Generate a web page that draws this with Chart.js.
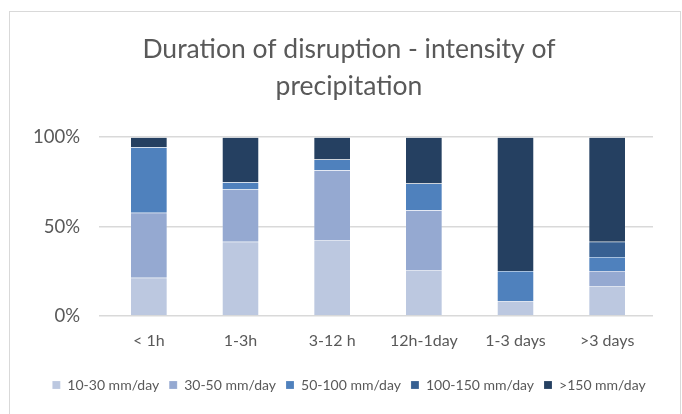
<!DOCTYPE html>
<html>
<head>
<meta charset="utf-8">
<script src="https://cdn.jsdelivr.net/npm/chart.js@4/dist/chart.umd.min.js"></script>
<style>
  html, body { margin: 0; padding: 0; background: #ffffff; }
  #wrap { width: 682px; height: 414px; position: relative; }
</style>
</head>
<body>
<div id="wrap"><canvas id="chart" width="682" height="414"></canvas></div>
<script>
// Duration categories on the x axis
const categories = ['< 1h', '1-3h', '3-12 h', '12h-1day', '1-3 days', '>3 days'];

// Share (%) of each precipitation intensity class per duration
const s10to30   = [21.4, 41.5, 42.5, 25.7,  8.4, 16.8];
const s30to50   = [36.3, 29.2, 39.0, 33.5,  0.0,  8.4];
const s50to100  = [36.7,  4.1,  6.0, 14.9, 16.8,  7.8];
const s100to150 = [ 0.0,  0.0,  0.0,  0.0,  0.0,  8.5];
const sOver150  = [ 5.6, 25.2, 12.5, 25.9, 74.8, 58.5];

const seriesNames = ['10-30 mm/day', '30-50 mm/day', '50-100 mm/day', '100-150 mm/day', '>150 mm/day'];
const yTicks = [0, 50, 100];

const colors = ['#bcc8e0', '#95a9d1', '#4f81bd', '#376092', '#254061'];
const textGray = '#595959';
const FONT = 'Lato, "Open Sans", sans-serif';

const seriesData = [s10to30, s30to50, s50to100, s100to150, sOver150];

// Light frame around the whole chart
const framePlugin = {
  id: 'frame',
  afterDraw(chart) {
    const ctx = chart.ctx;
    ctx.save();
    ctx.strokeStyle = '#d9d9d9';
    ctx.lineWidth = 1;
    ctx.strokeRect(9.5, 11.5, 671, 420);
    ctx.restore();
  }
};

new Chart(document.getElementById('chart'), {
  type: 'bar',
  data: {
    labels: categories,
    datasets: seriesData.map((d, i) => ({
      label: seriesNames[i],
      data: d,
      backgroundColor: colors[i],
      borderColor: 'rgba(255,255,255,0.35)',
      borderWidth: 0.5,
      categoryPercentage: 1.0,
      barPercentage: 0.4
    }))
  },
  options: {
    responsive: false,
    animation: false,
    devicePixelRatio: 1,
    layout: { padding: { left: 16, right: 0, top: 0, bottom: 12 } },
    plugins: {
      title: {
        display: true,
        text: ['Duration of disruption - intensity of', 'precipitation'],
        color: textGray,
        font: { family: FONT, size: 26.5, weight: 'normal', lineHeight: 1.4 },
        padding: { top: 31, bottom: 32 }
      },
      legend: {
        position: 'bottom',
        labels: {
          color: textGray,
          font: { family: FONT, size: 14 },
          boxWidth: 8,
          boxHeight: 8,
          padding: 10
        }
      },
      tooltip: { enabled: false }
    },
    scales: {
      x: {
        stacked: true,
        afterFit(scale) { scale.height = 52; },
        grid: { display: false, drawTicks: false },
        border: { display: false },
        ticks: { color: textGray, font: { family: FONT, size: 16 }, padding: 15 }
      },
      y: {
        stacked: true,
        min: 0,
        max: 100,
        afterBuildTicks(scale) { scale.ticks = yTicks.map(v => ({ value: v })); },
        afterFit(scale) { scale.width = 87; },
        grid: { color: '#d9d9d9', lineWidth: 1.5, tickLength: 4 },
        border: { display: false },
        ticks: {
          color: textGray,
          font: { family: FONT, size: 18.5 },
          padding: 19,
          callback: v => v + '%'
        }
      },
      // empty right-hand margin axis
      yRight: {
        position: 'right',
        afterFit(scale) { scale.width = 29; },
        grid: { display: false, drawTicks: false },
        border: { display: false },
        ticks: { display: false }
      }
    }
  },
  plugins: [framePlugin]
});
</script>
</body>
</html>
